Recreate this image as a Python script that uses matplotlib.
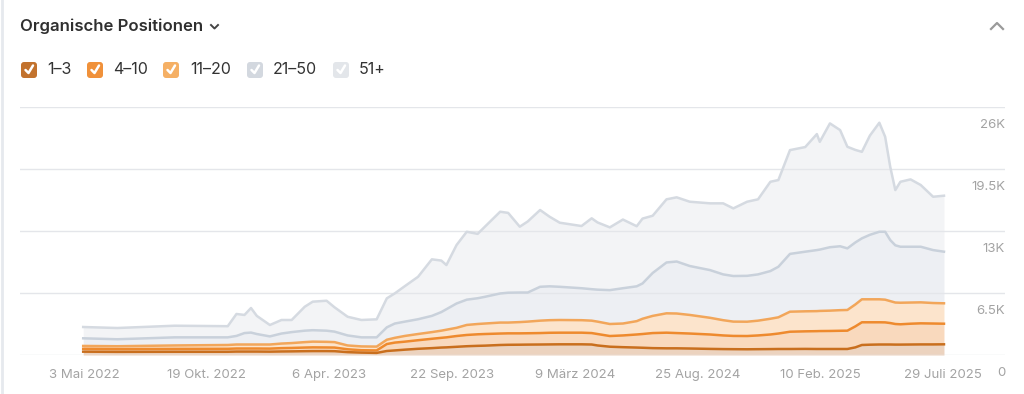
import matplotlib
matplotlib.use("Agg")
import matplotlib.pyplot as plt
import pandas as pd
from matplotlib.patches import FancyBboxPatch
from matplotlib.lines import Line2D
from matplotlib.transforms import ScaledTranslation


plt.rcParams['font.family'] = ['Inter', 'DejaVu Sans']


# Daten (kumulierte Werte je Positionsbereich)
#----------------------------------------------------------------------------------------------------
dates = ['2022-05-02', '2022-06-18', '2022-09-05', '2022-11-17', '2022-11-29', '2022-12-10',
         '2022-12-19', '2022-12-27', '2023-01-14', '2023-01-30', '2023-02-13', '2023-03-03',
         '2023-03-14', '2023-04-02', '2023-04-13', '2023-05-01', '2023-05-20', '2023-06-10',
         '2023-06-24', '2023-07-05', '2023-07-19', '2023-08-06', '2023-08-25', '2023-09-07',
         '2023-09-14', '2023-09-28', '2023-10-12', '2023-10-27', '2023-11-06', '2023-11-27',
         '2023-12-08', '2023-12-24', '2024-01-04', '2024-01-21', '2024-02-03', '2024-02-17',
         '2024-03-18', '2024-04-01', '2024-04-09', '2024-04-26', '2024-05-14', '2024-06-02',
         '2024-06-10', '2024-06-24', '2024-07-13', '2024-07-27', '2024-08-14', '2024-09-11',
         '2024-09-29', '2024-10-13', '2024-11-01', '2024-11-16', '2024-12-03', '2024-12-14',
         '2024-12-30', '2025-01-20', '2025-02-05', '2025-02-09', '2025-02-23', '2025-03-09',
         '2025-03-19', '2025-03-30', '2025-04-08', '2025-04-19', '2025-05-02', '2025-05-10',
         '2025-05-17', '2025-05-24', '2025-05-31', '2025-06-14', '2025-06-28', '2025-07-15',
         '2025-07-30']

top_1_3 = [350, 330, 340, 340, 360, 360, 360, 360, 350, 370, 380, 400,
           410, 410, 400, 300, 250, 220, 420, 480, 560, 650, 720, 780,
           800, 860, 920, 960, 980, 1050, 1070, 1080, 1090, 1100, 1110, 1120,
           1120, 1100, 1000, 870, 820, 780, 760, 720, 700, 700, 680, 640,
           620, 610, 600, 610, 620, 630, 630, 640, 630, 630, 630, 630,
           630, 800, 1050, 1080, 1100, 1100, 1100, 1090, 1090, 1100, 1110, 1110,
           1120]

top_4_10 = [650, 620, 640, 650, 680, 680, 680, 680, 670, 720, 740, 780,
            800, 790, 780, 600, 500, 480, 1150, 1300, 1400, 1550, 1700, 1800,
            1850, 1990, 2100, 2170, 2200, 2250, 2270, 2270, 2280, 2300, 2330, 2340,
            2340, 2300, 2200, 1990, 2050, 2150, 2200, 2300, 2340, 2300, 2250, 2150,
            2050, 2000, 1990, 2050, 2150, 2250, 2440, 2480, 2500, 2510, 2520, 2540,
            2550, 3000, 3430, 3430, 3430, 3420, 3350, 3250, 3220, 3280, 3320, 3300,
            3280]

top_11_20 = [950, 920, 1000, 1050, 1100, 1100, 1100, 1100, 1100, 1200, 1250, 1350,
             1400, 1380, 1350, 1000, 900, 880, 1600, 1800, 2000, 2200, 2400, 2550,
             2650, 2850, 3150, 3250, 3300, 3400, 3400, 3450, 3500, 3600, 3650, 3670,
             3650, 3600, 3500, 3250, 3300, 3550, 3800, 4100, 4370, 4350, 4200, 3900,
             3650, 3500, 3490, 3600, 3800, 3950, 4540, 4580, 4600, 4620, 4650, 4700,
             4720, 5300, 5840, 5840, 5840, 5800, 5650, 5500, 5480, 5500, 5520, 5450,
             5420]

top_21_50 = [1750, 1650, 1850, 1850, 2000, 2300, 2350, 2200, 1950, 2250, 2400, 2550,
             2600, 2550, 2450, 2050, 1850, 1850, 2900, 3300, 3500, 3750, 4100, 4500,
             4800, 5400, 5800, 5950, 6100, 6450, 6530, 6550, 6550, 7150, 7200, 7150,
             7000, 6900, 6850, 6800, 7000, 7200, 7500, 8600, 9700, 9800, 9330, 8900,
             8450, 8280, 8300, 8450, 8800, 9250, 10600, 10830, 11000, 11050, 11300, 11400,
             11180, 11800, 12230, 12600, 12920, 12920, 12050, 11500, 11350, 11350, 11350, 11000,
             10830]

top_51_plus = [2935, 2830, 3070, 3020, 4300, 4200, 4925, 4100, 3145, 3670, 3670, 5060,
               5590, 5690, 5000, 4010, 3670, 3740, 5940, 6460, 7230, 8200, 10030, 9900,
               9430, 11530, 12920, 12700, 13450, 15020, 14900, 13450, 14000, 15200, 14500, 13870,
               13520, 14330, 13900, 13380, 14200, 13500, 14300, 14600, 16320, 16530, 16070, 15900,
               15900, 15370, 16070, 16320, 18160, 18340, 21480, 21800, 23160, 22350, 24280, 23580,
               21830, 21500, 21300, 23000, 24350, 22880, 19730, 17290, 18160, 18410, 17820, 16590,
               16700]

legend_labels = ['1–3', '4–10', '11–20', '21–50', '51+']
box_colors = ['#c2722d', '#f0913a', '#f5b065', '#d3d8df', '#e3e6ea']
line_colors = ['#c96f1e', '#ee8a2e', '#f2a65a', '#c9d1db', '#d5dae1']
fill_colors = ['#ecd3bf', '#f9d9bd', '#fce4cc', '#edeff3', '#f3f4f6']

tick_dates = ['2022-05-03', '2022-10-19', '2023-04-06', '2023-09-22',
              '2024-03-09', '2024-08-25', '2025-02-10', '2025-07-29']
tick_labels = ['3 Mai 2022', '19 Okt. 2022', '6 Apr. 2023', '22 Sep. 2023',
               '9 März 2024', '25 Aug. 2024', '10 Feb. 2025', '29 Juli 2025']

y_ticks = [0, 6500, 13000, 19500, 26000]
y_labels = ['0', '6.5K', '13K', '19.5K', '26K']


#----------------------------------------------------------------------------------------------------
W, H = 1024, 394

fig = plt.figure(figsize=(W / 100, H / 100), dpi=100)
fig.patch.set_facecolor('white')

ax = fig.add_axes([20 / W, 1 - 355 / H, 985 / W, 248 / H])
ax.set_facecolor('none')

x = pd.to_datetime(dates)
layers = [top_1_3, top_4_10, top_11_20, top_21_50, top_51_plus]

lower = [0] * len(x)
for i in range(len(layers)):
    ax.fill_between(x, lower, layers[i], color=fill_colors[i], linewidth=0, zorder=1)
    lower = layers[i]

for i in reversed(range(len(layers))):
    ax.plot(x, layers[i], color=line_colors[i], linewidth=1.8, zorder=3,
            solid_joinstyle='round')

# Gitter
for v in y_ticks:
    ax.axhline(v, color='#e4e6ea', linewidth=1, zorder=2)

ax.set_xlim(pd.Timestamp('2022-02-04'), pd.Timestamp('2025-10-22'))
ax.set_ylim(0, 26000)

ax.set_xticks(pd.to_datetime(tick_dates))
ax.set_xticklabels(tick_labels)
ax.tick_params(axis='x', length=0, pad=10, labelsize=9.5, labelcolor='#a3a3a3')
ax.set_yticks([])

for s in ax.spines.values():
    s.set_visible(False)

# y-Beschriftungen rechts, unter der Gitterlinie
offset = ScaledTranslation(0, -18 / 100, fig.dpi_scale_trans)
for v, lab in zip(y_ticks, y_labels):
    ax.text(1.0, v, lab, transform=ax.get_yaxis_transform() + offset,
            ha='right', va='center', fontsize=9.5, color='#a3a3a3')


# Kopfzeile
#----------------------------------------------------------------------------------------------------
def px(xp, yp):
    return xp / 100, (H - yp) / 100

tr = fig.dpi_scale_trans

fig.text(*px(20, 26), 'Organische Positionen', transform=tr, ha='left', va='center',
         fontsize=12, fontweight='semibold', color='#2f2f2f')

fig.add_artist(Line2D([211 / 100, 214.5 / 100, 218 / 100],
                      [(H - 25) / 100, (H - 28.5) / 100, (H - 25) / 100],
                      transform=tr, color='#444444', linewidth=1.4))

fig.add_artist(Line2D([991 / 100, 997 / 100, 1003 / 100],
                      [(H - 29) / 100, (H - 23) / 100, (H - 29) / 100],
                      transform=tr, color='#9a9a9a', linewidth=1.6))

# linker Kartenrand
fig.add_artist(Line2D([1.5 / 100, 1.5 / 100], [0, H / 100], transform=tr,
                      color='#e6e9ee', linewidth=2))

# Legende mit Kontrollkästchen
box_x = [21, 87, 163, 247, 333]
label_x = [47, 113, 190, 273, 359]
for bx, lx, lab, col in zip(box_x, label_x, legend_labels, box_colors):
    bx0, by0 = px(bx, 78)
    box = FancyBboxPatch((bx0, by0), 16 / 100, 16 / 100,
                         boxstyle='round,pad=0,rounding_size=0.03',
                         transform=tr, facecolor=col, edgecolor='none')
    fig.add_artist(box)
    fig.add_artist(Line2D([(bx + 4.5) / 100, (bx + 7.5) / 100, (bx + 12) / 100],
                          [(H - 70) / 100, (H - 73) / 100, (H - 65.5) / 100],
                          transform=tr, color='white', linewidth=1.8,
                          solid_capstyle='round', solid_joinstyle='round'))
    fig.text(*px(lx, 70), lab, transform=tr, ha='left', va='center',
             fontsize=11.5, color='#333333')


fig.savefig('out.png', dpi=100)
